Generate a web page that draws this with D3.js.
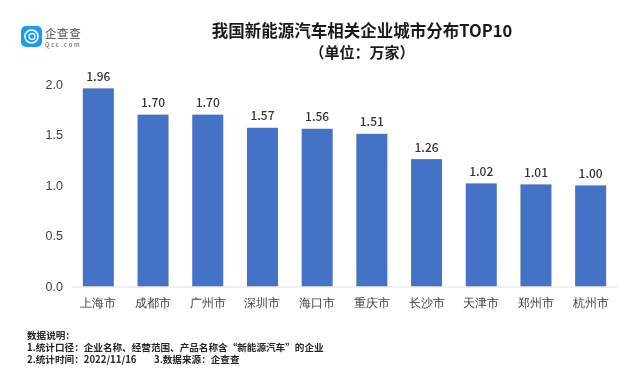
<!DOCTYPE html>
<html>
<head>
<meta charset="utf-8">
<script src="https://cdn.jsdelivr.net/npm/d3@7"></script>
<style>
  html, body { margin: 0; padding: 0; background: #fff; }
  svg { display: block; font-family: "Noto Sans CJK SC", sans-serif; filter: blur(0.45px); }
  .axis path { display: none; }
  .axis line { stroke: #e2e2e2; }
  .axis text { fill: #404040; }
</style>
</head>
<body>
<div id="chart"></div>
<script>
const cities = ["上海市", "成都市", "广州市", "深圳市", "海口市", "重庆市", "长沙市", "天津市", "郑州市", "杭州市"];
const counts = [1.96, 1.70, 1.70, 1.57, 1.56, 1.51, 1.26, 1.02, 1.01, 1.00];
const yTicks = [0, 0.5, 1, 1.5, 2];
const titleLines = ["我国新能源汽车相关企业城市分布TOP10", "（单位：万家）"];
const notes = [
  "数据说明：",
  "1.统计口径：企业名称、经营范围、产品名称含“新能源汽车”的企业",
  "2.统计时间：2022/11/16",
];
const sourceNote = "3.数据来源：企查查";

const width = 625;
const height = 382;
const svg = d3.select("#chart").append("svg").attr("width", width).attr("height", height);

const x = d3.scaleBand().domain(cities).range([71, 618]).paddingInner(0.433).paddingOuter(0.2165);
const y = d3.scaleLinear().domain([0, 2]).range([286.5, 84.3]);

// bars
svg.append("g")
  .selectAll("rect")
  .data(cities)
  .join("rect")
  .attr("x", (d) => x(d))
  .attr("y", (d, i) => y(counts[i]))
  .attr("width", x.bandwidth())
  .attr("height", (d, i) => y(0) - y(counts[i]))
  .attr("fill", "#4472c4");

// value labels
svg.append("g")
  .selectAll("text")
  .data(cities)
  .join("text")
  .attr("x", (d) => x(d) + x.bandwidth() / 2)
  .attr("y", (d, i) => y(counts[i]) - 7.5)
  .attr("text-anchor", "middle")
  .attr("font-size", 12)
  .attr("font-weight", 500)
  .attr("fill", "#333")
  .text((d, i) => counts[i].toFixed(2));

const xAxis = svg.append("g")
  .attr("class", "axis")
  .attr("transform", `translate(0,${y(0)})`)
  .call(d3.axisBottom(x).tickSize(0).tickPadding(11.5));
xAxis.selectAll("text").attr("font-size", 12);
xAxis.select(".domain").style("display", "inline").attr("stroke", "#e2e2e2");

const yAxis = svg.append("g")
  .attr("class", "axis")
  .attr("transform", "translate(63,0)")
  .call(d3.axisLeft(y).tickValues(yTicks).tickSize(0).tickPadding(0).tickFormat(d3.format(".1f")));
yAxis.selectAll("text").attr("font-size", 12.5);

// title
svg.append("g")
  .selectAll("text")
  .data(titleLines)
  .join("text")
  .attr("x", 362)
  .attr("y", (d, i) => 37 + i * 20.5)
  .attr("text-anchor", "middle")
  .attr("font-size", (d, i) => (i ? 15 : 16.5))
  .attr("font-weight", 700)
  .attr("fill", "#1a1a1a")
  .text((d) => d);

// notes, one text block so the tight line spacing holds
const noteText = svg.append("text")
  .attr("y", 339)
  .attr("font-size", 9.6)
  .attr("font-weight", 700)
  .attr("fill", "#262626");
noteText.selectAll("tspan")
  .data(notes)
  .join("tspan")
  .attr("x", 27)
  .attr("dy", (d, i) => (i ? 12 : 0))
  .text((d) => d);
noteText.append("tspan").attr("x", 154).text(sourceNote);

// logo
const logo = svg.append("g");
logo.append("rect").attr("x", 21).attr("y", 26).attr("width", 21).attr("height", 21).attr("rx", 5).attr("fill", "#1e9bf0");
logo.append("circle").attr("cx", 31.5).attr("cy", 36.5).attr("r", 6.5).attr("fill", "none").attr("stroke", "#fff").attr("stroke-width", 1.6);
logo.append("circle").attr("cx", 32).attr("cy", 36.5).attr("r", 3).attr("fill", "none").attr("stroke", "#fff").attr("stroke-width", 1.3);
logo.append("text").attr("x", 45).attr("y", 38).attr("font-size", 11.5).attr("font-weight", 500).attr("fill", "#6d6d6d").attr("letter-spacing", 0.6).text("企查查");
logo.append("text").attr("x", 45).attr("y", 46.5).attr("font-size", 6).attr("font-weight", 500).attr("fill", "#6d6d6d").attr("letter-spacing", 1.7).text("Qcc.com");
</script>
</body>
</html>
